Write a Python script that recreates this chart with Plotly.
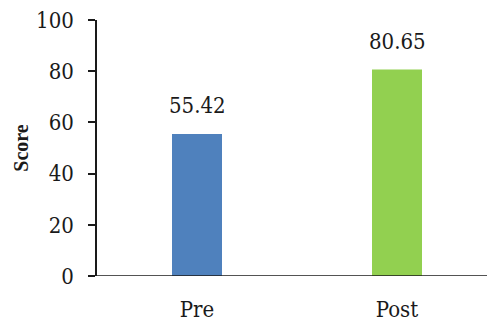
import plotly.graph_objects as go

categories = ["Pre", "Post"]
scores = [55.42, 80.65]
bar_colors = ["#4F81BD", "#92D050"]
y_ticks = [0, 20, 40, 60, 80, 100]

FONT = "DejaVu Serif Condensed"

fig = go.Figure()
fig.add_trace(go.Bar(
    x=categories, y=scores, marker=dict(color=bar_colors, line=dict(width=0)),
    width=0.25, showlegend=False, hoverinfo="skip",
))

for c, v in zip(categories, scores):
    fig.add_annotation(x=c, y=v, text=f"{v:.2f}", showarrow=False,
                       yanchor="bottom", yshift=14,
                       font=dict(family=FONT, size=22, color="#1a1a1a"))

fig.add_shape(type="line", xref="paper", yref="y", x0=-7/390, x1=1, y0=0, y1=0,
              line=dict(color="#1a1a1a", width=1.5))

fig.update_layout(
    width=487, height=324,
    margin=dict(l=97, r=0, t=20, b=48),
    paper_bgcolor="white", plot_bgcolor="white",
    font=dict(family=FONT, size=22, color="#1a1a1a"),
    bargap=0.75,
    xaxis=dict(range=[-0.5, 1.45], showline=False, ticks="", showgrid=False,
               zeroline=False, tickfont=dict(family=FONT, size=22), ticklabelstandoff=18),
    yaxis=dict(range=[0, 100], tickvals=y_ticks, showline=True, linecolor="#1a1a1a",
               linewidth=1.5, ticks="outside", ticklen=7, tickcolor="#1a1a1a", tickwidth=1.5,
               showgrid=False, zeroline=False, tickfont=dict(family=FONT, size=22),
               ticklabelstandoff=10,
               title=dict(text="<b>Score</b>", font=dict(family="Liberation Serif", size=20), standoff=2)),
)

fig.write_html("out.html")
